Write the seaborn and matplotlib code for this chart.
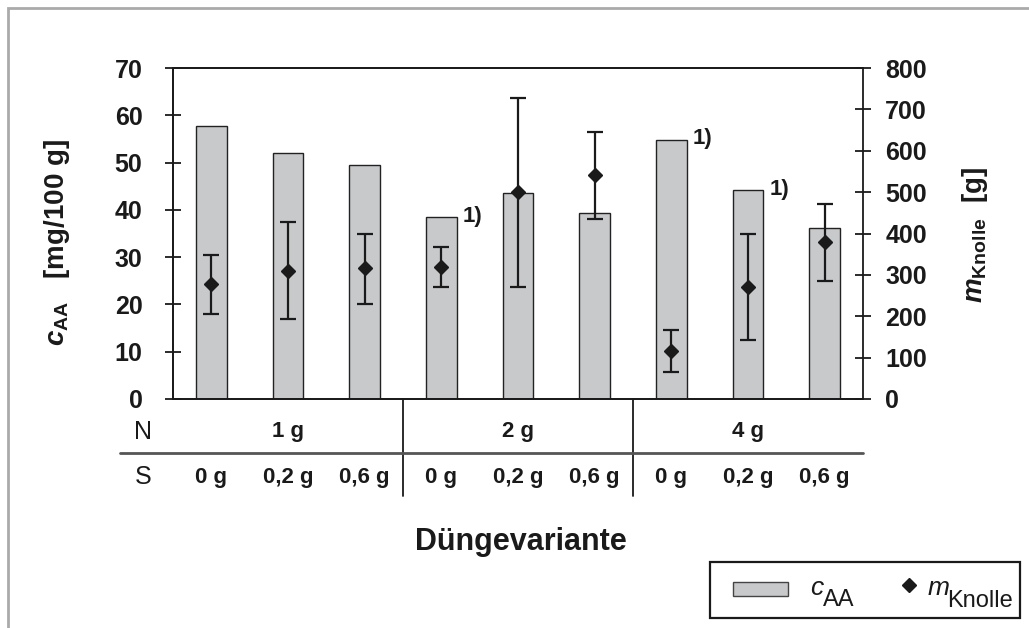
import numpy as np
import pandas as pd
import matplotlib
matplotlib.use("Agg")
import matplotlib.pyplot as plt
import seaborn as sns
from matplotlib.lines import Line2D
from matplotlib.patches import Patch, Rectangle
from matplotlib.transforms import blended_transform_factory

# ---------------- data ----------------
n_levels = ["1 g", "2 g", "4 g"]
s_levels = ["0 g", "0,2 g", "0,6 g"]
variants = ["N1 S0", "N1 S0,2", "N1 S0,6", "N2 S0", "N2 S0,2", "N2 S0,6",
            "N4 S0", "N4 S0,2", "N4 S0,6"]
c_aa = [57.8, 52.1, 49.5, 38.5, 43.5, 39.3, 54.8, 44.2, 36.1]          # mg/100 g
m_knolle = [277, 309, 316, 319, 501, 541, 116, 271, 379]                # g
m_upper = [349, 429, 400, 367, 728, 646, 167, 400, 471]
m_lower = [205, 193, 229, 271, 271, 435, 65, 143, 286]
footnote_idx = [3, 6, 7]
left_ticks = [0, 10, 20, 30, 40, 50, 60, 70]
right_ticks = [0, 100, 200, 300, 400, 500, 600, 700, 800]

df = pd.DataFrame({"variant": variants, "c_aa": c_aa})

# ---------------- style ----------------
sns.set_theme(style="white")
plt.rcParams["font.family"] = ["Liberation Sans", "DejaVu Sans"]
plt.rcParams["mathtext.fontset"] = "custom"
plt.rcParams["mathtext.rm"] = "Liberation Sans"
plt.rcParams["mathtext.it"] = "Liberation Sans:italic"
plt.rcParams["mathtext.bf"] = "Liberation Sans:bold"
plt.rcParams["mathtext.bfit"] = "Liberation Sans:italic:bold"
narrow = ["Liberation Sans Narrow", "Liberation Sans", "DejaVu Sans"]

fig = plt.figure(figsize=(10.29, 6.28), dpi=100)
ax = fig.add_axes([173 / 1029, 1 - 399 / 628, 690 / 1029, 331 / 628])

ink = "#1a1a1a"
bar_color = "#c8c9cb"
sns.barplot(data=df, x="variant", y="c_aa", ax=ax, color=bar_color,
            edgecolor="#222222", linewidth=1.0, width=0.4, saturation=1)
ax.set_xlim(-0.5, 8.5)
ax.set_ylim(0, 70)
ax.set_yticks(left_ticks)
ax.set_xlabel("")
ax.set_ylabel("")

ax2 = ax.twinx()
x = np.arange(len(variants))
yerr = [np.array(m_knolle) - np.array(m_lower), np.array(m_upper) - np.array(m_knolle)]
ax2.errorbar(x, m_knolle, yerr=yerr, fmt="D", color=ink, ms=7,
             ecolor=ink, elinewidth=1.6, capsize=6, capthick=1.6)
ax2.set_ylim(0, 800)
ax2.set_yticks(right_ticks)

for a in (ax, ax2):
    for s in a.spines.values():
        s.set_color(ink)
        s.set_linewidth(1.3)
    a.tick_params(axis="y", direction="inout", length=12, width=1.3,
                  labelsize=18, colors=ink)
ax.tick_params(axis="y", pad=16)
ax2.tick_params(axis="y", pad=10)
for a in (ax, ax2):
    for lab in a.get_yticklabels():
        lab.set_fontweight("bold")
ax.spines["right"].set_visible(False)

ax.set_xticks([0.5, 1.5, 2.5, 3.5, 4.5, 5.5, 6.5, 7.5])
ax.set_xticklabels([])
ax.tick_params(axis="x", direction="inout", length=12, width=1.3, colors=ink)

# footnotes "1)"
for i in footnote_idx:
    ax.text(i + 0.28, c_aa[i] + 0.2, "1)", fontsize=16, fontweight="bold",
            ha="left", va="center", color=ink)

# ---------------- table below axis ----------------
tr = blended_transform_factory(ax.transData, fig.transFigure)
y_n = 1 - 432 / 628
y_s = 1 - 477 / 628
fig.text(143 / 1029, y_n, "N", fontsize=18, ha="center", va="center", color=ink)
fig.text(143 / 1029, y_s, "S", fontsize=18, ha="center", va="center", color=ink)
for g, lab in enumerate(n_levels):
    ax.text(3 * g + 1, y_n, lab, transform=tr, fontsize=16, fontweight="bold",
            family=narrow, ha="center", va="center", color=ink, clip_on=False)
    for k, slab in enumerate(s_levels):
        ax.text(3 * g + k, y_s, slab, transform=tr, fontsize=16, fontweight="bold",
                family=narrow, ha="center", va="center", color=ink, clip_on=False)
for xb in (2.5, 5.5):
    ax.add_line(Line2D([xb, xb], [1 - 399 / 628, 1 - 496 / 628], transform=tr,
                       color=ink, lw=1.3, clip_on=False))
fig.add_artist(Line2D([120 / 1029, 863 / 1029], [1 - 453 / 628, 1 - 453 / 628],
                      transform=fig.transFigure, color="#555555", lw=2.0))

fig.text(521 / 1029, 1 - 542 / 628, "Düngevariante", fontsize=22, fontweight="bold",
         ha="center", va="center", color=ink)

# axis labels
fig.text(57 / 1029, 1 - 243 / 628, r"$\mathbfit{c}_{\mathbf{AA}}$   [mg/100 g]",
         rotation=90, fontsize=20, fontweight="bold", ha="center", va="center",
         color=ink)
fig.text(975 / 1029, 1 - 235 / 628, r"$\mathbfit{m}_{\mathbf{Knolle}}$  [g]",
         rotation=90, fontsize=20, fontweight="bold", ha="center", va="center",
         color=ink)

# legend (drawn as figure artists)
W, H = 1029, 628
fig.add_artist(Rectangle((710 / W, 1 - 618 / H), 310 / W, 56 / H,
                         transform=fig.transFigure, facecolor="white",
                         edgecolor=ink, lw=1.6))
fig.add_artist(Rectangle((733 / W, 1 - 596 / H), 55 / W, 14 / H,
                         transform=fig.transFigure, facecolor=bar_color,
                         edgecolor="#444444", lw=1.0))
fig.add_artist(Line2D([909 / W], [1 - 585 / H], transform=fig.transFigure,
                      marker="D", ls="none", color=ink, ms=7))
fig.text(810 / W, 1 - 588 / H, r"$c$", fontsize=19, ha="left", va="center", color=ink)
fig.text(823 / W, 1 - 600 / H, "AA", fontsize=17, ha="left", va="center", color=ink)
fig.text(927 / W, 1 - 588 / H, r"$m$", fontsize=19, ha="left", va="center", color=ink)
fig.text(947 / W, 1 - 601 / H, "Knolle", fontsize=17, family=narrow,
         ha="left", va="center", color=ink)

# outer light frame
fig.add_artist(Rectangle((8 / 1029, -0.05), 1.1, 1 - 8 / 628 + 0.05,
                         transform=fig.transFigure, fill=False,
                         edgecolor="#aaaaaa", lw=2.0))

fig.savefig("out.png", dpi=100)
